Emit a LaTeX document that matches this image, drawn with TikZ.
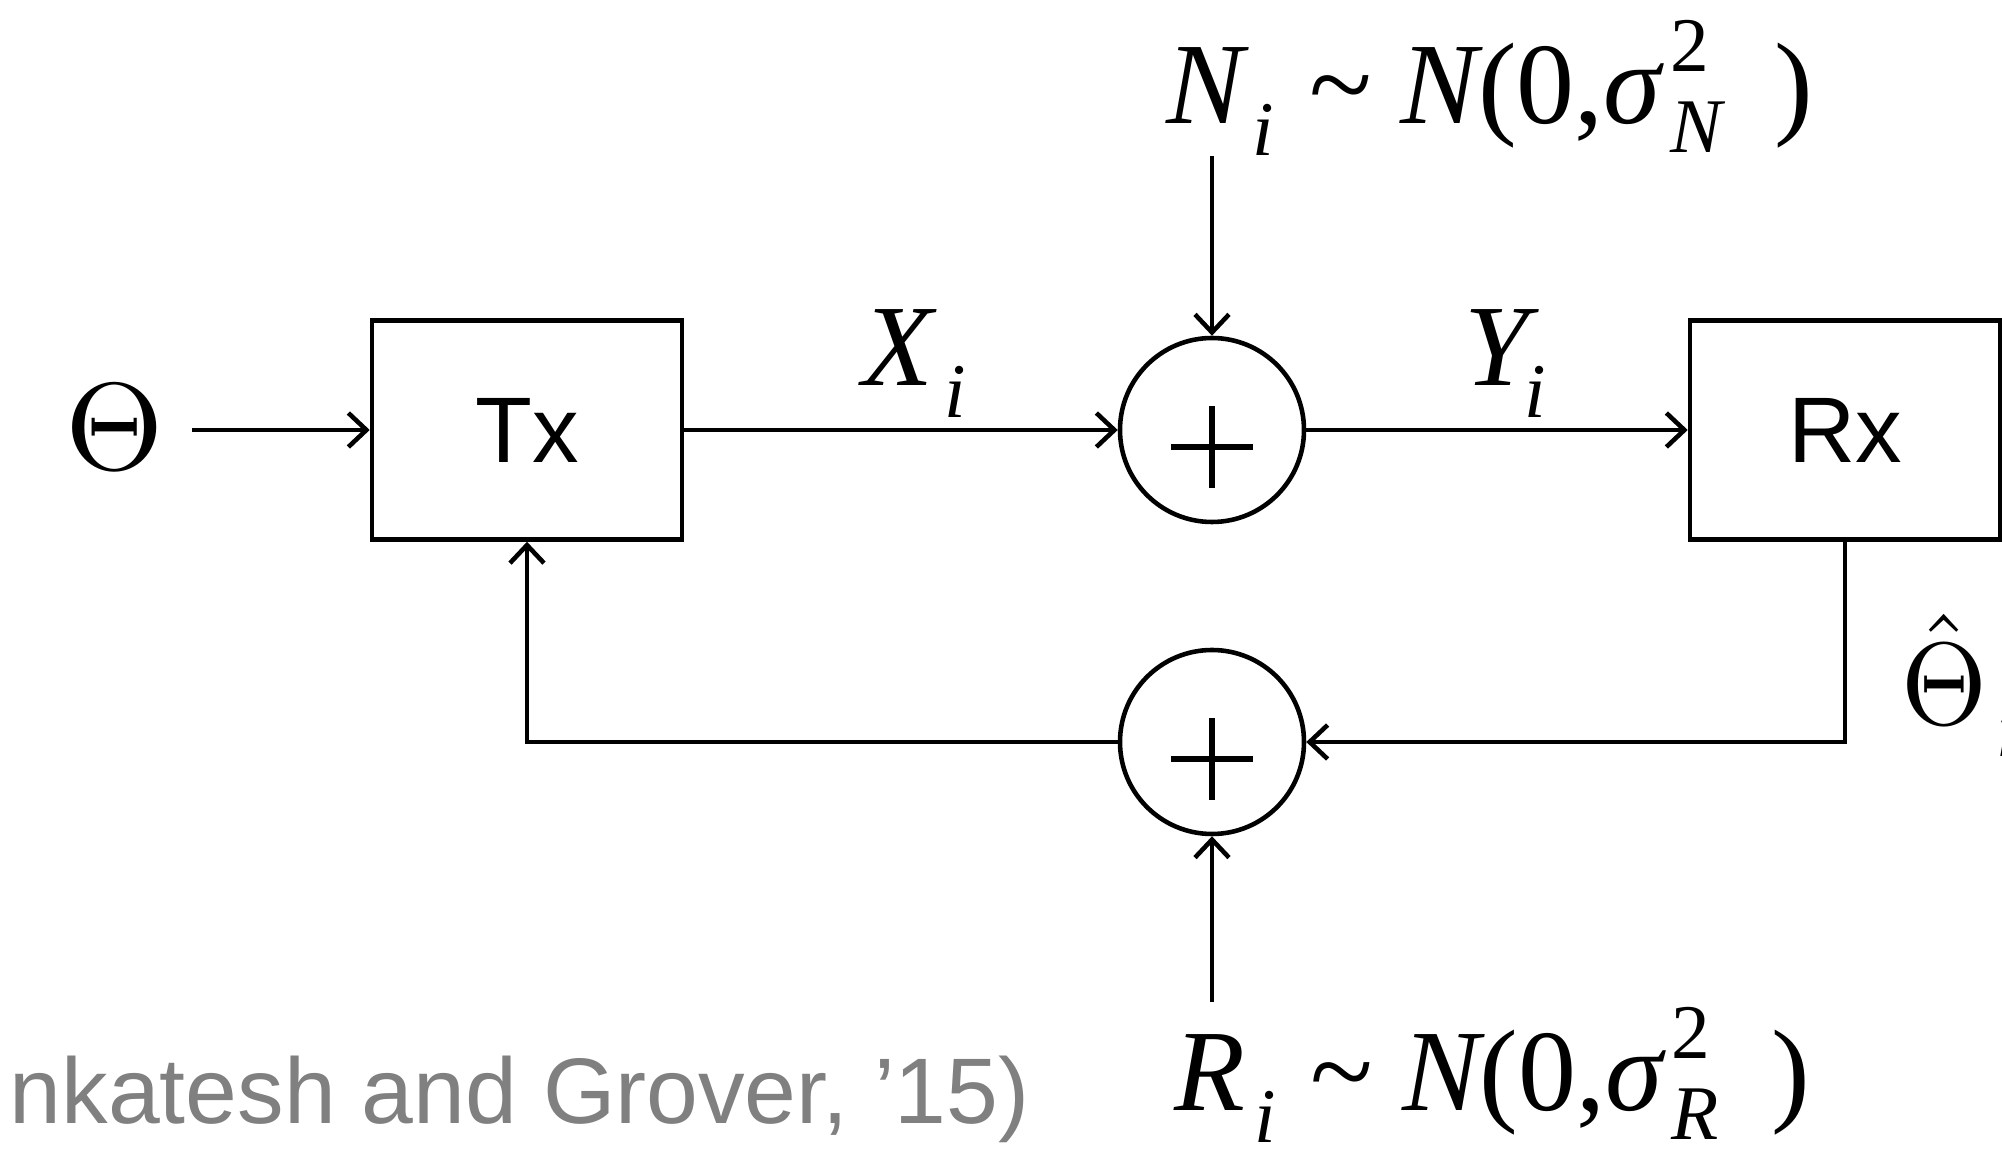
\documentclass[tikz,border=0pt]{standalone}
\usepackage{fontspec}
\setmainfont{Liberation Sans}
\newfontfamily\tnr{Liberation Serif}
\usepackage{tikz}
\usetikzlibrary{arrows.meta, calc}
\definecolor{citegray}{RGB}{128,128,128}
\newcommand{\lblsz}{\fontsize{33}{33}\selectfont}
\newcommand{\scrsz}{\fontsize{22}{22}\selectfont}
\newcommand{\blksz}{\fontsize{26.5}{26.5}\selectfont}
\newcommand{\sbi}[1]{\raisebox{-.27em}{\scrsz #1}}
\newcommand{\supsb}[2]{\rlap{\raisebox{.45em}{\scrsz\upshape #1}}\raisebox{-.25em}{\scrsz #2}}
\newcommand{\Th}{\scalebox{3.6}[3.52]{\fontsize{10}{12}\selectfont$\Theta$}}
\newcommand{\hTh}{\scalebox{3.14}[3.33]{\fontsize{10}{12}\selectfont$\hat\Theta$}}

\begin{document}
\begin{tikzpicture}[>={Straight Barb[length=1.8mm,width=3.4mm]}, line width=1.3pt,
    blk/.style={draw, rectangle, minimum width=3.1cm, minimum height=2.19cm, inner sep=0pt, font=\blksz},
    sum/.style={draw, circle, minimum size=1.84cm, inner sep=0pt},
    lbl/.style={font=\tnr\itshape\lblsz, inner sep=0pt, anchor=base west}]
    \useasboundingbox (0,0) rectangle (20.02,11.54);
    % blocks and adders
    \node[inner sep=0pt] (theta) at (1.15,7.27) {\Th};
    \node[blk] (tx) at (5.27,7.24) {Tx};
    \node[sum] (sumN) at (12.12,7.24) {};
    \node[blk] (rx) at (18.45,7.24) {Rx};
    \node[sum] (sumR) at (12.12,4.12) {};
    \foreach \s in {sumN,sumR}
        \draw[line width=1.7pt] ($(\s)+(-0.41,-0.17)$) -- ($(\s)+(0.41,-0.17)$) ($(\s)+(0,-0.58)$) -- ($(\s)+(0,0.24)$);
    % free ends
    \coordinate (in) at (1.92,7.24);
    \coordinate (ntop) at (12.12,9.98);
    \coordinate (rbot) at (12.12,1.52);
    % connectors
    \draw[->] (in) -- (in -| tx.west);
    \draw[->] (tx.east) -- (sumN.west);
    \draw[->] (sumN.east) -- (rx.west);
    \draw[->] (ntop) -- (sumN.north);
    \draw[->] (rx.south) |- (sumR.east);
    \draw[->] (sumR.west) -| (tx.south);
    \draw[->] (rbot) -- (sumR.south);
    % labels
    \node[lbl] (xlbl) at (8.60,7.68) {X\kern.1em\sbi{i}};
    \node[lbl] (ylbl) at (14.62,7.68) {Y\kern-.04em\sbi{i}};
    \node[lbl] (nlbl) at (11.64,10.30) {N\kern.08em\sbi{i}\kern.3em\upshape\textasciitilde\kern.25em\itshape N\upshape(0,\itshape σ\kern.08em\supsb{2}{N}\kern.45em\upshape)};
    \node[lbl] (rlbl) at (11.72,0.43) {R\kern.08em\sbi{i}\kern.3em\upshape\textasciitilde\kern.25em\itshape N\upshape(0,\itshape σ\kern.08em\supsb{2}{R}\kern.45em\upshape)};
    \node[lbl] (thetahat) at (18.99,4.29) {\hTh\kern.08em\sbi{i}};
    \node[font=\blksz, text=citegray, anchor=base east, inner sep=0pt] (cite) at (10.32,0.30) {nkatesh and Grover, ’15)};
\end{tikzpicture}
\end{document}
